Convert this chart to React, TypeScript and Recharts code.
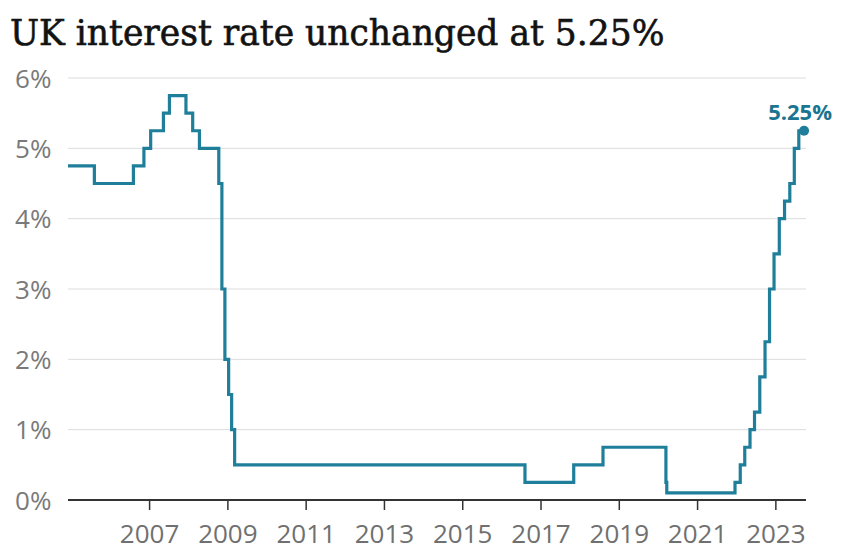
import React from 'react';
import { LineChart, Line, XAxis, YAxis, CartesianGrid } from 'recharts';

// Bank Rate decisions (effective date, rate in %)
const CHANGE_DATES = [
    '2004-12-01', '2005-08-04', '2006-08-03', '2006-11-09', '2007-01-11',
    '2007-05-10', '2007-07-05', '2007-12-06', '2008-02-07', '2008-04-10',
    '2008-10-08', '2008-11-06', '2008-12-04', '2009-01-08', '2009-02-05',
    '2009-03-05', '2016-08-04', '2017-11-02', '2018-08-02', '2020-03-11',
    '2020-03-19', '2021-12-16', '2022-02-03', '2022-03-17', '2022-05-05',
    '2022-06-16', '2022-08-04', '2022-09-22', '2022-11-03', '2022-12-15',
    '2023-02-02', '2023-03-23', '2023-05-11', '2023-06-22', '2023-08-03',
    '2023-09-21',
];
const RATES = [
    4.75, 4.5, 4.75, 5.0, 5.25,
    5.5, 5.75, 5.5, 5.25, 5.0,
    4.5, 3.0, 2.0, 1.5, 1.0,
    0.5, 0.25, 0.5, 0.75, 0.25,
    0.1, 0.25, 0.5, 0.75, 1.0,
    1.25, 1.75, 2.25, 3.0, 3.5,
    4.0, 4.25, 4.5, 5.0, 5.25,
    5.25,
];
const YEAR_TICKS = [2007, 2009, 2011, 2013, 2015, 2017, 2019, 2021, 2023];
const PCT_TICKS = [0, 1, 2, 3, 4, 5, 6];

const TITLE = 'UK interest rate unchanged at 5.25%';
const LINE_COLOR = '#1f7f9b';
const LABEL_COLOR = '#1b7591';
const SANS = '"Open Sans", "Noto Sans", sans-serif';

function toYear(s: string) {
    const d = new Date(s + 'T00:00:00Z');
    const y = d.getUTCFullYear();
    const start = Date.UTC(y, 0, 1);
    const end = Date.UTC(y + 1, 0, 1);
    return y + (d.getTime() - start) / (end - start);
}

const data = CHANGE_DATES.map((d, i) => ({ x: toYear(d), rate: RATES[i] }));
const lastIndex = data.length - 1;

const YTick = ({ y, payload }: any) => (
    <text x={15} y={y + 9.5} textAnchor="start" fill="#7a7a7a" fontSize={26} fontFamily={SANS}>
        {payload.value}%
    </text>
);

const XTick = ({ x, payload }: any) => (
    <text x={x} y={543} textAnchor="middle" fill="#707070" fontSize={26} fontFamily={SANS}>
        {payload.value}
    </text>
);

const EndDot = (props: any) => {
    const { cx, cy, index } = props;
    if (index !== lastIndex) return <g key={`d${index}`} />;
    return (
        <g key={`d${index}`}>
            <circle cx={cx} cy={cy} r={5} fill={LINE_COLOR} />
            <text x={cx - 4} y={cy - 11} textAnchor="middle" fill={LABEL_COLOR} fontSize={22} fontWeight={700} fontFamily={SANS}>
                {RATES[lastIndex].toFixed(2)}%
            </text>
        </g>
    );
};

export default function App() {
    return (
        <div style={{ position: 'absolute', left: 0, top: 0, width: 857, height: 552, background: '#fff' }}>
            <svg width={857} height={60} style={{ position: 'absolute', left: 0, top: 0 }}>
                <text x={10} y={45} fill="#121212" stroke="#121212" strokeWidth={0.6} fontSize={34.5} fontFamily='"DejaVu Serif", serif'>
                    {TITLE}
                </text>
            </svg>
            <LineChart width={857} height={552} data={data} margin={{ top: 78, right: 51, bottom: 0, left: 0 }}>
                <CartesianGrid vertical={false} stroke="#dcdcdc" strokeWidth={1} />
                <YAxis
                    type="number"
                    domain={[0, 6]}
                    ticks={PCT_TICKS}
                    width={68}
                    axisLine={false}
                    tickLine={false}
                    tick={<YTick />}
                />
                <XAxis
                    dataKey="x"
                    type="number"
                    domain={[2004.92, 2023.77]}
                    ticks={YEAR_TICKS}
                    height={52}
                    axisLine={{ stroke: '#333', strokeWidth: 2 }}
                    tickLine={{ stroke: '#333', strokeWidth: 1.5 }}
                    tickSize={10}
                    tick={<XTick />}
                />
                <Line
                    type="stepAfter"
                    dataKey="rate"
                    stroke={LINE_COLOR}
                    strokeWidth={3.2}
                    dot={EndDot}
                    activeDot={false}
                    isAnimationActive={false}
                />
            </LineChart>
        </div>
    );
}
